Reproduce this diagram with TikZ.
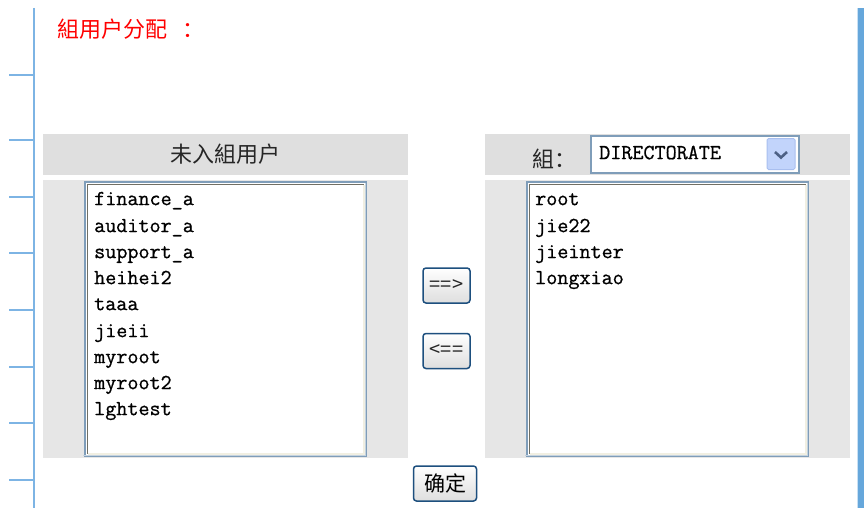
\documentclass[tikz,border=0pt]{standalone}
\usepackage{fontspec}
\newfontfamily\cjk{Noto Sans CJK SC}
\newfontfamily\mono[FakeBold=0.8]{Latin Modern Mono}
\definecolor{hdrgray}{HTML}{DFDFDF}
\definecolor{bodygray}{HTML}{E6E6E6}
\definecolor{rulerblue}{HTML}{7DB4E4}
\definecolor{barblue}{HTML}{66A7DB}
\definecolor{lbblue}{HTML}{7F9DB9}
\definecolor{btnblue}{HTML}{1D4F7E}
\definecolor{sunk}{HTML}{716F64}
\definecolor{cream}{HTML}{F1EFE2}
\definecolor{ddbtn}{HTML}{C2D4FB}
\definecolor{ddbtnedge}{HTML}{A9BFEF}
\definecolor{chev}{HTML}{4D6185}
\definecolor{titlered}{HTML}{FF0000}
\tikzset{
  panel/.style={fill=#1, draw=none, inner sep=0pt},
  listbox/.style={fill=white, draw=lbblue, line width=1.5pt, inner sep=0pt, minimum width=281pt, minimum height=274pt},
  item/.style={anchor=mid west, inner sep=0pt, font=\mono\fontsize{21.5}{21.5}\selectfont, text=black},
  btn/.style={draw=btnblue, line width=1.5pt, rounded corners=3pt, top color=white, bottom color=black!13, inner sep=0pt, minimum width=47pt, minimum height=35pt, text=black!85},
  cjktext/.style={inner sep=0pt, font=\cjk\fontsize{22}{22}\selectfont},
  ruler/.style={rulerblue, line width=2pt}
}
\begin{document}
\begin{tikzpicture}[x=1pt,y=-1pt]
\useasboundingbox (0,0) rectangle (864,508);
\fill[white] (0,0) rectangle (864,508);

% left ruler
\draw[ruler] (34,8) -- (34,508);
\foreach \y in {75,140,197,253,310,367,423,480} \draw[ruler] (9,\y) -- (34,\y);
% right bar
\fill[barblue!35] (856.5,8) rectangle (858,508);
\fill[barblue] (858,8) rectangle (864,508);

% title
\node[cjktext, anchor=west, text=titlered] (title) at (57,29) {組用户分配\hspace{15pt}：};

% panels
\node[panel=hdrgray, minimum width=365pt, minimum height=41pt] (lhdr) at (225.5,154.5) {};
\node[panel=bodygray, minimum width=365pt, minimum height=278pt] (lbody) at (225.5,319) {};
\node[panel=hdrgray, minimum width=365pt, minimum height=41pt] (rhdr) at (667.5,154.5) {};
\node[panel=bodygray, minimum width=365pt, minimum height=278pt] (rbody) at (667.5,319) {};

% header texts
\node[cjktext, text=black!85] (lhdrtxt) at (225.5,154) {未入組用户};
\node[cjktext, anchor=west, text=black!85] (grp) at (532,159) {組：};

% dropdown
\node[fill=white, draw=lbblue, line width=1.5pt, inner sep=0pt, minimum width=208pt, minimum height=37pt] (dd) at (695,154.5) {};
\node[item] (ddtxt) at (599,157) {DIRECTORATE};
\node[fill=ddbtn, draw=ddbtnedge, line width=1pt, rounded corners=1.5pt, inner sep=0pt, minimum width=28pt, minimum height=31pt] (ddbtn) at (781,154) {};
\draw[chev, line width=2.6pt] ([xshift=-6pt,yshift=2pt]ddbtn.center) -- ([yshift=-3.5pt]ddbtn.center) -- ([xshift=6pt,yshift=2pt]ddbtn.center);

% list boxes
\foreach \nm/\cx in {llb/225.5, rlb/667.5}{
  \node[listbox] (\nm) at (\cx,319) {};
  \draw[sunk, line width=1.5pt] ([xshift=3pt,yshift=3pt]\nm.south west) -- ([xshift=3pt,yshift=-3pt]\nm.north west) -- ([xshift=-3pt,yshift=-3pt]\nm.north east);
  \draw[cream, line width=1.5pt] ([xshift=3.75pt,yshift=3pt]\nm.south west) -- ([xshift=-3pt,yshift=3pt]\nm.south east) -- ([xshift=-3pt,yshift=-3.75pt]\nm.north east);
  \draw[lbblue!45, line width=0.8pt] ([xshift=-1.6pt,yshift=1.6pt]\nm.south west) ++(0.8,0) -- ([xshift=-1.6pt,yshift=1.6pt]\nm.south east) -- ([xshift=-1.6pt,yshift=-1.6pt]\nm.north east);
}

% left items
\node[item] (l1) at (94,203) {finance\_a};
\node[item] (l2) at (94,230) {auditor\_a};
\node[item] (l3) at (94,256) {support\_a};
\node[item] (l4) at (94,282) {heihei2};
\node[item] (l5) at (94,308) {taaa};
\node[item] (l6) at (94,335) {jieii};
\node[item] (l7) at (94,361) {myroot};
\node[item] (l8) at (94,387) {myroot2};
\node[item] (l9) at (94,413) {lghtest};

% right items
\node[item] (r1) at (535,203) {root};
\node[item] (r2) at (535,230) {jie22};
\node[item] (r3) at (535,256) {jieinter};
\node[item] (r4) at (535,282) {longxiao};

% buttons
\node[btn, font=\cjk\fontsize{20}{20}\selectfont] (addbtn) at (446.5,285.5) {==>};
\node[btn, font=\cjk\fontsize{20}{20}\selectfont] (rembtn) at (446.5,351) {<==};
\node[btn, minimum width=63pt, font=\cjk\fontsize{21}{21}\selectfont, text=black] (okbtn) at (445,483.5) {确定};
\end{tikzpicture}
\end{document}
